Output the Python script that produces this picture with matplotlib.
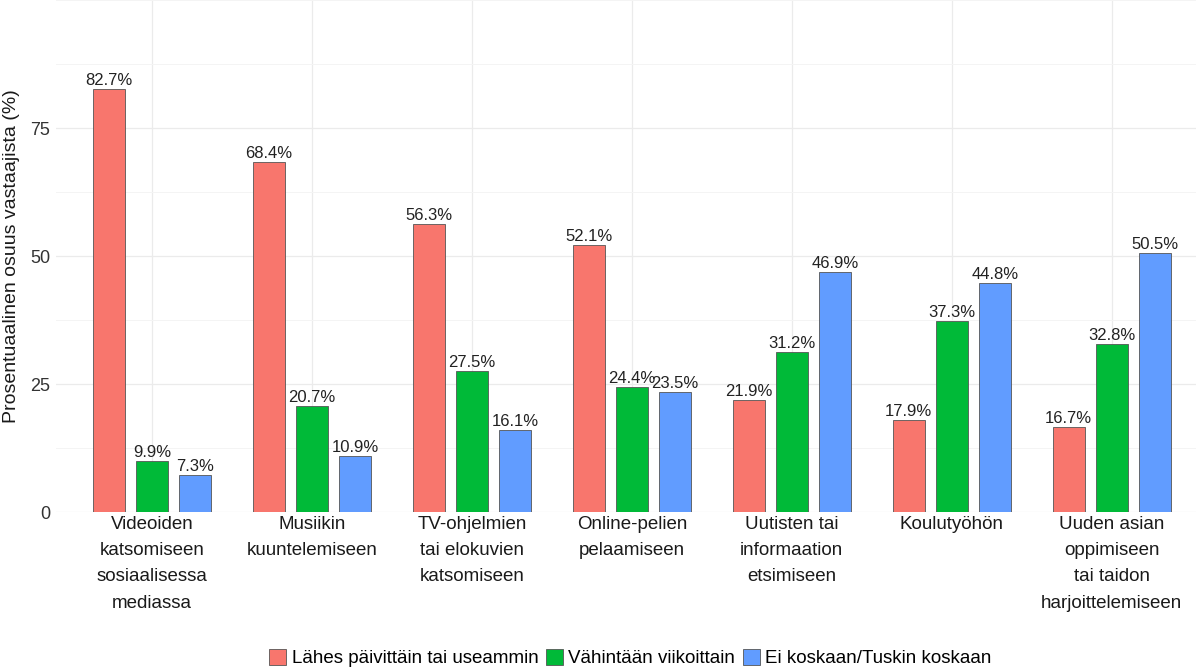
import numpy as np
import matplotlib.pyplot as plt
from matplotlib.ticker import MultipleLocator

plt.rcParams["font.family"] = ["Liberation Sans", "DejaVu Sans"]

categories = [
    "Videoiden\nkatsomiseen\nsosiaalisessa\nmediassa",
    "Musiikin\nkuuntelemiseen",
    "TV-ohjelmien\ntai elokuvien\nkatsomiseen",
    "Online-pelien\npelaamiseen",
    "Uutisten tai\ninformaation\netsimiseen",
    "Koulutyöhön",
    "Uuden asian\noppimiseen\ntai taidon\nharjoittelemiseen",
]
series = [
    "Lähes päivittäin tai useammin",
    "Vähintään viikoittain",
    "Ei koskaan/Tuskin koskaan",
]
daily = [82.7, 68.4, 56.3, 52.1, 21.9, 17.9, 16.7]
weekly = [9.9, 20.7, 27.5, 24.4, 31.2, 37.3, 32.8]
never = [7.3, 10.9, 16.1, 23.5, 46.9, 44.8, 50.5]

colors = ["#F8766D", "#00BA38", "#619CFF"]

fig = plt.figure(figsize=(11.96, 6.72), dpi=100)
ax = fig.add_axes([0.0468, 0.238, 0.963, 0.762])

x = np.arange(len(categories))
offset = 0.27
width = 0.2

for i, (vals, name) in enumerate(zip([daily, weekly, never], series)):
    pos = x + (i - 1) * offset
    ax.bar(pos, vals, width=width, color=colors[i], edgecolor="#555555",
           linewidth=0.6, label=name, zorder=3)
    for p, v in zip(pos, vals):
        ax.text(p, v + 0.2, f"{v}%", ha="center", va="bottom", fontsize=12,
                color="#222222", zorder=4)

ax.set_xlim(-0.6, 6.6)
ax.set_ylim(0, 100)
ax.set_yticks([0, 25, 50, 75])
ax.yaxis.set_minor_locator(MultipleLocator(12.5))
ax.set_xticks(x)
ax.set_xticklabels(categories, fontsize=13.5, color="#1a1a1a", linespacing=1.7)
ax.tick_params(axis="y", labelsize=13, labelcolor="#333333", pad=4)
ax.tick_params(length=0, which="both")
ax.tick_params(axis="x", pad=3)
ax.grid(True, which="major", color="#EBEBEB", linewidth=0.9, zorder=0)
ax.grid(True, which="minor", axis="y", color="#F4F4F4", linewidth=0.7, zorder=0)
for s in ax.spines.values():
    s.set_visible(False)
ax.set_ylabel("Prosentuaalinen osuus vastaajista (%)", fontsize=14, color="#1a1a1a")
ax.yaxis.set_label_coords(-0.031, 0.5)

fig.legend(loc="lower center", bbox_to_anchor=(0.527, -0.018), ncol=3, frameon=False,
           fontsize=13.5, handlelength=0.9, handleheight=0.9, handletextpad=0.3,
           columnspacing=0.4)

fig.savefig("out.png", dpi=100)
